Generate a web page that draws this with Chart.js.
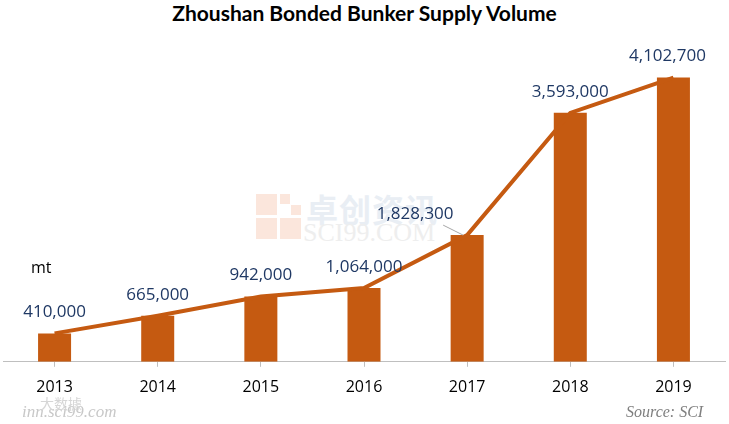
<!DOCTYPE html>
<html><head><meta charset="utf-8">
<script src="https://cdn.jsdelivr.net/npm/chart.js@4/dist/chart.umd.min.js"></script>
<style>
html,body{margin:0;padding:0;background:#fff;}
#wrap{position:relative;width:729px;height:424px;overflow:hidden;background:#fff;}
#c{position:absolute;left:0;top:0;}
.t{position:absolute;white-space:nowrap;}
.sq{position:absolute;background:#fbe6dc;}
</style></head><body>
<div id="wrap">
<div class="t" style="left:0;width:729px;top:0px;text-align:center;font:bold 21px Lato,'Open Sans',sans-serif;color:#000;">Zhoushan Bonded Bunker Supply Volume</div>
<div class="sq" style="left:256px;top:194px;width:21px;height:21px;"></div>
<div class="sq" style="left:256px;top:218px;width:21px;height:21px;"></div>
<div class="sq" style="left:280px;top:218px;width:21px;height:21px;"></div>
<div class="sq" style="left:280px;top:194px;width:10px;height:10px;"></div>
<div class="sq" style="left:291px;top:205px;width:10px;height:10px;"></div>
<div class="t" style="left:306px;top:185px;font:bold 32px 'Noto Sans CJK SC';color:#e9eef4;letter-spacing:1px;">卓创资讯</div>
<div class="t" style="left:303px;top:218px;font:26px 'Liberation Serif';color:#eeeeee;">SCI99.COM</div>
<canvas id="c" width="729" height="424"></canvas>
<div class="t" style="left:31px;top:256px;font:16px 'Open Sans',sans-serif;color:#000;">mt</div>
<div class="t" style="left:22px;top:402px;font:italic 17px 'Liberation Serif';color:#c8c8c8;">inn.sci99.com</div>
<div class="t" style="left:40px;top:393px;font:14px 'Noto Sans CJK SC';color:#d6d6d6;">大数據</div>
<div class="t" style="left:626px;top:403px;font:italic 16px 'Liberation Serif';color:#7f7f7f;">Source: SCI</div>
</div>
<script>
const years = ['2013','2014','2015','2016','2017','2018','2019'];
const volumes = [410000, 665000, 942000, 1064000, 1828300, 3593000, 4102700];
const labelShiftX = [0, 0, 0, 0, -52, 0, -6];

const orange = '#C55A11';
const labelPlugin = {
  id: 'valLabels',
  afterDatasetsDraw(chart) {
    const ctx = chart.ctx;
    const meta = chart.getDatasetMeta(0);
    ctx.save();
    ctx.font = '17px "Open Sans", sans-serif';
    ctx.fillStyle = '#1F3864';
    ctx.textAlign = 'center';
    ctx.textBaseline = 'middle';
    meta.data.forEach((el, i) => {
      const txt = volumes[i].toLocaleString('en-US');
      const x = el.x + labelShiftX[i];
      const y = el.y - 21;
      ctx.fillText(txt, x, y);
      if (labelShiftX[i] < -20) {
        ctx.strokeStyle = '#a6a6a6';
        ctx.lineWidth = 1;
        ctx.beginPath();
        ctx.moveTo(x + 28, y + 11);
        ctx.lineTo(el.x - 4, el.y);
        ctx.stroke();
      }
    });
    ctx.restore();
  }
};

new Chart(document.getElementById('c'), {
  data: {
    labels: years,
    datasets: [
      { type: 'line', data: volumes, borderColor: orange, borderWidth: 4, pointRadius: 0, tension: 0, order: 0 },
      { type: 'bar', data: volumes, backgroundColor: orange, categoryPercentage: 1, barPercentage: 0.32, order: 1 }
    ]
  },
  options: {
    responsive: false,
    animation: false,
    layout: { padding: { top: 50, left: 3, right: 4, bottom: 16 } },
    plugins: { legend: { display: false }, title: { display: false }, tooltip: { enabled: false } },
    scales: {
      y: { display: false, min: 0, max: 4500000 },
      x: {
        offset: true,
        grid: { display: true, offset: false, drawOnChartArea: false, drawTicks: true, tickLength: 5, color: '#bfbfbf' },
        border: { display: true, color: '#bfbfbf', width: 1 },
        ticks: { color: '#000', font: { family: 'Open Sans', size: 16 }, padding: 11 }
      }
    }
  },
  plugins: [labelPlugin]
});
</script>
</body></html>
